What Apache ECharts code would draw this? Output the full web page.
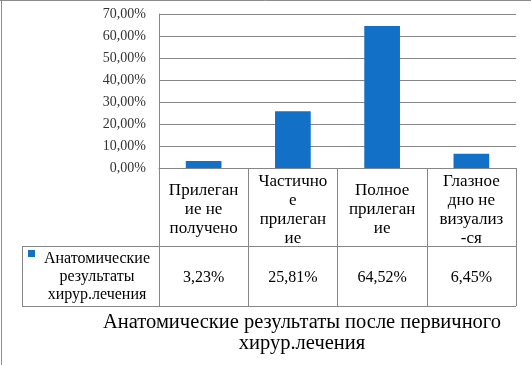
<!DOCTYPE html>
<html><head><meta charset="utf-8">
<script src="https://cdn.jsdelivr.net/npm/echarts@6/dist/echarts.min.js"></script>
<style>html,body{margin:0;padding:0;background:#fff}#c{width:531px;height:365px}</style>
</head><body><div id="c"></div>
<script>
const categories = ['Прилеган\nие не\nполучено', 'Частично\nе\nприлеган\nие', 'Полное\nприлеган\nие', 'Глазное\nдно не\nвизуализ\n-ся'];
const values = [0.0323, 0.2581, 0.6452, 0.0645];
const seriesName = 'Анатомические\nрезультаты\nхирур.лечения';
const titleText = 'Анатомические результаты после первичного\nхирур.лечения';

const fmt = v => (v * 100).toFixed(2).replace('.', ',') + '%';
const L = 159, R = 516, T = 14, B = 168, ROW1 = 246, ROW2 = 306, TL = 22;
const lineC = '#868686';
const serif = 'Liberation Serif';

const chart = echarts.init(document.getElementById('c'), null, {renderer: 'canvas'});
const gfx = [];
const ln = (x1, y1, x2, y2, c) => gfx.push({type: 'line', shape: {x1, y1, x2, y2}, style: {stroke: c || lineC, lineWidth: 1}, silent: true});
ln(0, 0.5, 531, 0.5, '#8c8c8c');
ln(1.5, 0, 1.5, 365, '#8c8c8c');
ln(TL, ROW1 + 0.5, R, ROW1 + 0.5);
ln(TL, ROW2 + 0.5, R, ROW2 + 0.5);
ln(TL + 0.5, ROW1, TL + 0.5, ROW2);
gfx.push({type: 'rect', shape: {x: 28, y: 250, width: 7, height: 7}, style: {fill: '#1270C6'}});
gfx.push({type: 'text', style: {x: 97, y: 277, text: seriesName, fontFamily: serif, fontSize: 16, fill: '#000', align: 'center', verticalAlign: 'middle', lineHeight: 18}});
gfx.push({type: 'text', style: {x: 302, y: 333, text: titleText, fontFamily: serif, fontSize: 20.5, fill: '#000', align: 'center', verticalAlign: 'middle', lineHeight: 20.5}});

chart.setOption({
  animation: false,
  grid: {left: L, right: 531 - R, top: T, bottom: 365 - B, containLabel: false},
  xAxis: [{
    type: 'category', data: categories, position: 'bottom',
    axisLine: {show: true, lineStyle: {color: lineC}},
    axisTick: {show: true, length: ROW2 - B, lineStyle: {color: lineC}},
    axisLabel: {margin: 42, verticalAlign: 'middle', fontFamily: serif, fontSize: 17, color: '#000', lineHeight: 19, interval: 0}
  }, {
    type: 'category', data: values.map(fmt), position: 'bottom', offset: 110,
    axisLine: {show: false}, axisTick: {show: false},
    axisLabel: {margin: 0, verticalAlign: 'middle', fontFamily: serif, fontSize: 16, color: '#000', interval: 0}
  }],
  yAxis: {
    type: 'value', min: 0, max: 0.7, interval: 0.1,
    axisLine: {show: true, lineStyle: {color: lineC}},
    axisTick: {show: false},
    splitLine: {show: true, lineStyle: {color: lineC}},
    axisLabel: {formatter: fmt, fontFamily: serif, fontSize: 14, color: '#333', margin: 13}
  },
  series: [{type: 'bar', data: values, barWidth: '40%', itemStyle: {color: '#1270C6'}}],
  graphic: gfx
});
</script></body></html>
